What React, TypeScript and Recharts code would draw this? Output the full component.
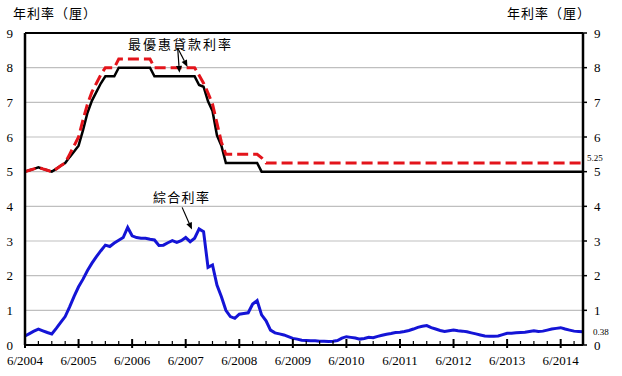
import React from "react";
import {
  LineChart,
  Line,
  XAxis,
  YAxis,
  CartesianGrid,
  ReferenceLine,
} from "recharts";

// month 0 = 6/2004, one value per month through 11/2014
const yearLabels = [
  "6/2004", "6/2005", "6/2006", "6/2007", "6/2008", "6/2009",
  "6/2010", "6/2011", "6/2012", "6/2013", "6/2014",
];
const yTicks = [0, 1, 2, 3, 4, 5, 6, 7, 8, 9];

// 最優惠貸款利率 (black, solid)
const primeA = [
  5.0, 5.04, 5.08, 5.125, 5.08, 5.04, 5.0, 5.08, 5.17, 5.25, 5.42, 5.58,
  5.75, 6.2, 6.7, 7.05, 7.3, 7.55, 7.75, 7.75, 7.75, 8.0, 8.0, 8.0,
  8.0, 8.0, 8.0, 8.0, 8.0, 7.75, 7.75, 7.75, 7.75, 7.75, 7.75, 7.75,
  7.75, 7.75, 7.75, 7.5, 7.45, 7.03, 6.75, 6.05, 5.75, 5.25, 5.25, 5.25,
  5.25, 5.25, 5.25, 5.25, 5.25, 5, 5, 5, 5, 5, 5, 5,
  5, 5, 5, 5, 5, 5, 5, 5, 5, 5, 5, 5,
  5, 5, 5, 5, 5, 5, 5, 5, 5, 5, 5, 5,
  5, 5, 5, 5, 5, 5, 5, 5, 5, 5, 5, 5,
  5, 5, 5, 5, 5, 5, 5, 5, 5, 5, 5, 5,
  5, 5, 5, 5, 5, 5, 5, 5, 5, 5, 5, 5,
  5, 5, 5, 5, 5, 5,
];

// 最優惠貸款利率 (red, dashed)
const primeB = [
  5.0, 5.04, 5.08, 5.125, 5.08, 5.04, 5.0, 5.08, 5.17, 5.25, 5.5, 5.75,
  6.0, 6.5, 6.95, 7.3, 7.55, 7.8, 8.0, 8.0, 8.0, 8.25, 8.25, 8.25,
  8.25, 8.25, 8.25, 8.25, 8.25, 8.0, 8.0, 8.0, 8.0, 8.0, 8.0, 8.0,
  8.0, 8.0, 8.0, 7.78, 7.55, 7.27, 6.95, 6.4, 5.85, 5.5, 5.5, 5.5,
  5.5, 5.5, 5.5, 5.5, 5.5, 5.4, 5.25, 5.25, 5.25, 5.25, 5.25, 5.25,
  5.25, 5.25, 5.25, 5.25, 5.25, 5.25, 5.25, 5.25, 5.25, 5.25, 5.25, 5.25,
  5.25, 5.25, 5.25, 5.25, 5.25, 5.25, 5.25, 5.25, 5.25, 5.25, 5.25, 5.25,
  5.25, 5.25, 5.25, 5.25, 5.25, 5.25, 5.25, 5.25, 5.25, 5.25, 5.25, 5.25,
  5.25, 5.25, 5.25, 5.25, 5.25, 5.25, 5.25, 5.25, 5.25, 5.25, 5.25, 5.25,
  5.25, 5.25, 5.25, 5.25, 5.25, 5.25, 5.25, 5.25, 5.25, 5.25, 5.25, 5.25,
  5.25, 5.25, 5.25, 5.25, 5.25, 5.25,
];

// 綜合利率 (blue)
const composite = [
  0.26, 0.33, 0.4, 0.46, 0.41, 0.36, 0.32, 0.48, 0.65, 0.82, 1.1, 1.4,
  1.68, 1.9, 2.15, 2.36, 2.55, 2.72, 2.88, 2.84, 2.94, 3.02, 3.1, 3.39,
  3.15, 3.1, 3.08, 3.08, 3.05, 3.03, 2.87, 2.88, 2.95, 3.01, 2.96, 3.01,
  3.1, 2.98, 3.08, 3.35, 3.27, 2.24, 2.31, 1.73, 1.39, 1.0, 0.82, 0.77,
  0.89, 0.91, 0.93, 1.18, 1.28, 0.87, 0.7, 0.43, 0.35, 0.32, 0.29, 0.24,
  0.19, 0.17, 0.14, 0.13, 0.12, 0.12, 0.11, 0.11, 0.1, 0.11, 0.13, 0.2,
  0.24, 0.22, 0.2, 0.17, 0.19, 0.22, 0.21, 0.25, 0.28, 0.31, 0.33, 0.36,
  0.37, 0.39, 0.42, 0.46, 0.51, 0.54, 0.56, 0.5, 0.46, 0.42, 0.39, 0.41,
  0.43, 0.41, 0.4, 0.38, 0.35, 0.32, 0.29, 0.26, 0.25, 0.25, 0.26, 0.3,
  0.34, 0.34, 0.35, 0.36, 0.37, 0.39, 0.41, 0.39, 0.4, 0.43, 0.46, 0.48,
  0.5, 0.46, 0.43, 0.4, 0.39, 0.38,
];

const data = composite.map((v, i) => ({
  m: i,
  primeA: primeA[i],
  primeB: primeB[i],
  composite: v,
}));
const LAST = composite.length - 1;
const xTicks = data.map((d) => d.m).filter((m) => m % 3 === 0);

const serif = "'Liberation Serif', 'Times New Roman', serif";
const cjk = "'Noto Sans CJK TC', 'Noto Sans CJK SC', sans-serif";

const XTick = ({ x, y, payload }: any) => {
  const m = payload.value;
  const major = m % 12 === 0;
  return (
    <g>
      <line
        x1={x}
        x2={x}
        y1={major ? y - 6 : y - 4}
        y2={major ? y + 3 : y}
        stroke="#000"
        strokeWidth={major ? 2 : 1.2}
      />
      {major && (
        <text x={x} y={y + 20} textAnchor="middle" fontSize={13} fontFamily={serif} fill="#000">
          {yearLabels[m / 12]}
        </text>
      )}
    </g>
  );
};

const LeftTick = ({ x, y, payload }: any) => (
  <text x={x - 12} y={y} dy="0.35em" textAnchor="end" fontSize={13} fontFamily={serif} fill="#000">
    {payload.value}
  </text>
);

const RightTick = ({ x, y, payload }: any) => (
  <g>
    <line x1={x} x2={x + 4} y1={y} y2={y} stroke="#000" strokeWidth={1.5} />
    <text x={x + 11} y={y} dy="0.35em" textAnchor="start" fontSize={13} fontFamily={serif} fill="#000">
      {payload.value}
    </text>
  </g>
);

const endLabel = (dx: number, dy: number) => (props: any) => {
  if (props.index !== LAST) return null;
  const px = props.x ?? props.viewBox?.x;
  const py = props.y ?? props.viewBox?.y;
  return (
    <text x={px + dx} y={py + dy} dy="0.35em" fontSize={9} fontFamily={serif} fill="#000">
      {props.value}
    </text>
  );
};

const Arrow = (props: any) => {
  const { x1, y1, x2, y2 } = props;
  const a = Math.atan2(y2 - y1, x2 - x1);
  const len = 7;
  const w = 3;
  const bx = x2 - len * Math.cos(a);
  const by = y2 - len * Math.sin(a);
  const pts = [
    `${x2},${y2}`,
    `${bx + w * Math.sin(a)},${by - w * Math.cos(a)}`,
    `${bx - w * Math.sin(a)},${by + w * Math.cos(a)}`,
  ].join(" ");
  return (
    <g>
      <line x1={x1} y1={y1} x2={bx} y2={by} stroke="#000" strokeWidth={1.2} />
      <polygon points={pts} fill="#000" />
    </g>
  );
};

const textStyle: React.CSSProperties = {
  position: "absolute",
  fontFamily: cjk,
  fontSize: 13,
  lineHeight: "13px",
  color: "#000",
  whiteSpace: "nowrap",
};

export default function App() {
  return (
    <div style={{ position: "relative", width: 622, height: 376, background: "#fff" }}>
      <style>{"body{margin:0}"}</style>
      <LineChart
        width={622}
        height={376}
        data={data}
        margin={{ top: 33, right: 0, bottom: 0, left: 0 }}
      >
        <CartesianGrid yAxisId="left" vertical={false} stroke="#bfbfbf" strokeWidth={1.2} />
        <XAxis
          dataKey="m"
          type="number"
          domain={[0, LAST]}
          ticks={xTicks}
          interval={0}
          height={31}
          tickSize={0}
          tickMargin={0}
          tickLine={false}
          tick={<XTick />}
          axisLine={{ stroke: "#000", strokeWidth: 2 }}
        />
        <YAxis
          yAxisId="left"
          orientation="left"
          width={25}
          domain={[0, 9]}
          ticks={yTicks}
          interval={0}
          tickSize={0}
          tickMargin={0}
          tickLine={false}
          tick={<LeftTick />}
          axisLine={{ stroke: "#000", strokeWidth: 2.5 }}
        />
        <YAxis
          yAxisId="right"
          orientation="right"
          width={39}
          domain={[0, 9]}
          ticks={yTicks}
          interval={0}
          tickSize={0}
          tickMargin={0}
          tickLine={false}
          tick={<RightTick />}
          axisLine={{ stroke: "#000", strokeWidth: 2.5 }}
        />
        <ReferenceLine yAxisId="left" y={9} stroke="#000" strokeWidth={2} />
        <Line
          yAxisId="left"
          dataKey="primeA"
          stroke="#000"
          strokeWidth={2.5}
          dot={false}
          isAnimationActive={false}
        />
        <Line
          yAxisId="right"
          dataKey="primeB"
          stroke="#e3141b"
          strokeWidth={3}
          strokeDasharray="11 5"
          dot={false}
          label={endLabel(4, -5)}
          isAnimationActive={false}
        />
        <Line
          yAxisId="left"
          dataKey="composite"
          stroke="#1414d6"
          strokeWidth={3}
          dot={false}
          label={endLabel(10, 0)}
          isAnimationActive={false}
        />
        <ReferenceLine
          yAxisId="left"
          segment={[{ x: 34.2, y: 8.57 }, { x: 36.4, y: 8.02 }]}
          shape={Arrow}
        />
        <ReferenceLine
          yAxisId="left"
          segment={[{ x: 34.2, y: 8.57 }, { x: 34.6, y: 7.85 }]}
          shape={Arrow}
        />
        <ReferenceLine
          yAxisId="left"
          segment={[{ x: 35.2, y: 3.97 }, { x: 37.4, y: 3.33 }]}
          shape={Arrow}
        />
      </LineChart>
      <div style={{ ...textStyle, left: 13, top: 6, letterSpacing: 1 }}>年利率（厘）</div>
      <div style={{ ...textStyle, left: 507, top: 6, letterSpacing: 1 }}>年利率（厘）</div>
      <div style={{ ...textStyle, left: 128, top: 37, letterSpacing: 2 }}>最優惠貸款利率</div>
      <div style={{ ...textStyle, left: 153, top: 190, letterSpacing: 1.3 }}>綜合利率</div>
    </div>
  );
}
